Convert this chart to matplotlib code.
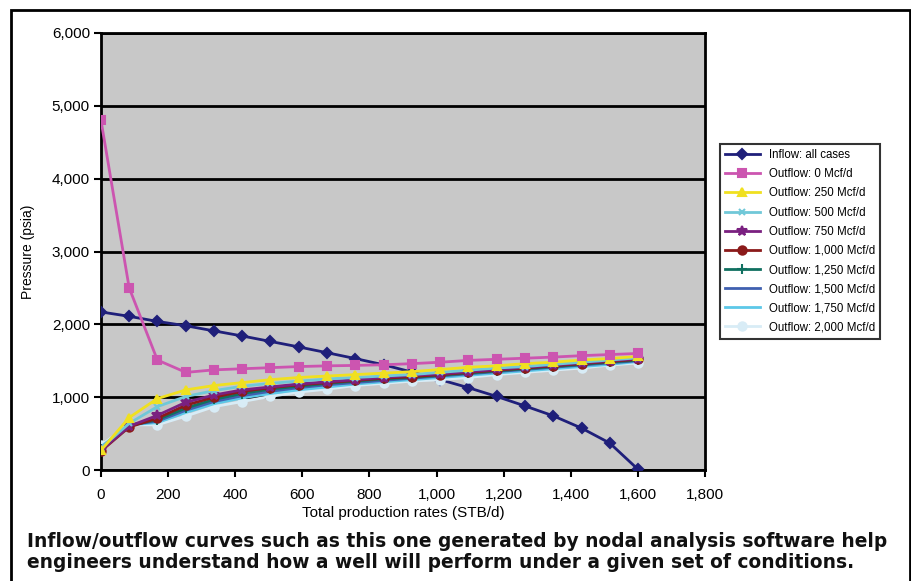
import matplotlib
matplotlib.use("Agg")
import matplotlib.pyplot as plt
from matplotlib.patches import Rectangle
from matplotlib.ticker import FuncFormatter

# Production rates (STB/d)
rates = [0, 84, 168, 253, 337, 421, 505, 589, 674, 758,
         842, 926, 1011, 1095, 1179, 1263, 1347, 1432, 1516, 1600]

inflow = [2170, 2110, 2040, 1980, 1910, 1840, 1765, 1690, 1610, 1530,
          1445, 1345, 1240, 1130, 1010, 880, 745, 575, 370, 10]

outflow_0 = [4800, 2500, 1510, 1340, 1375, 1390, 1405, 1420, 1430, 1436,
             1445, 1460, 1480, 1505, 1520, 1535, 1550, 1570, 1585, 1600]
outflow_250 = [270, 720, 980, 1100, 1160, 1200, 1240, 1270, 1290, 1310,
               1330, 1350, 1380, 1410, 1430, 1460, 1480, 1510, 1530, 1560]
outflow_500 = [300, 640, 870, 1010, 1090, 1150, 1190, 1220, 1250, 1270,
               1290, 1310, 1340, 1370, 1400, 1420, 1450, 1480, 1510, 1540]
outflow_750 = [270, 600, 750, 930, 1030, 1100, 1140, 1180, 1210, 1240,
               1270, 1300, 1320, 1350, 1380, 1410, 1440, 1470, 1500, 1530]
outflow_1000 = [260, 590, 710, 890, 1000, 1080, 1130, 1170, 1200, 1230,
                1260, 1280, 1310, 1340, 1370, 1400, 1430, 1460, 1490, 1520]
outflow_1250 = [290, 610, 690, 850, 970, 1050, 1110, 1150, 1190, 1220,
                1250, 1270, 1300, 1330, 1360, 1390, 1420, 1450, 1480, 1510]
outflow_1500 = [300, 620, 670, 820, 940, 1020, 1080, 1130, 1170, 1200,
                1230, 1260, 1290, 1320, 1350, 1380, 1410, 1440, 1470, 1500]
outflow_1750 = [320, 620, 650, 790, 910, 990, 1050, 1100, 1140, 1180,
                1210, 1240, 1270, 1300, 1330, 1360, 1390, 1420, 1450, 1490]
outflow_2000 = [340, 620, 620, 740, 870, 940, 1010, 1070, 1110, 1160,
                1190, 1220, 1240, 1270, 1310, 1340, 1370, 1400, 1440, 1470]

labels = ['Inflow: all cases', 'Outflow: 0 Mcf/d', 'Outflow: 250 Mcf/d',
          'Outflow: 500 Mcf/d', 'Outflow: 750 Mcf/d', 'Outflow: 1,000 Mcf/d',
          'Outflow: 1,250 Mcf/d', 'Outflow: 1,500 Mcf/d', 'Outflow: 1,750 Mcf/d',
          'Outflow: 2,000 Mcf/d']

plt.rcParams['font.family'] = ['Liberation Sans', 'DejaVu Sans']

fig = plt.figure(figsize=(9.12, 5.81), dpi=100)
ax = fig.add_axes([101 / 912, 1 - 470 / 581, 604 / 912, 437 / 581])
ax.set_facecolor('#c8c8c8')

# (values, colour, marker, size, legend position)
series = [
    (outflow_2000, '#d8ecf6', 'o', 6, 9),
    (outflow_1750, '#5cc8e8', None, 0, 8),
    (outflow_1500, '#4060b0', None, 0, 7),
    (outflow_1250, '#107060', '+', 7, 6),
    (outflow_1000, '#8b1a1a', 'o', 6, 5),
    (outflow_750, '#7a2080', '*', 7, 4),
    (outflow_500, '#70c8d8', 'x', 5, 3),
    (outflow_250, '#f0e020', '^', 6, 2),
    (outflow_0, '#cc55b0', 's', 6, 1),
    (inflow, '#1f1f7a', 'D', 5, 0),
]
handles = {}
for z, (vals, col, mk, ms, pos) in enumerate(series):
    h, = ax.plot(rates, vals, color=col, lw=2, marker=mk, ms=ms,
                 markeredgecolor=col, markeredgewidth=1.5, zorder=3 + z * 0.1)
    handles[pos] = h
handles[0].set_zorder(2.9)

ax.set_xlim(0, 1800)
ax.set_ylim(0, 6000)
ax.set_xticks(range(0, 1801, 200))
ax.set_yticks(range(0, 6001, 1000))
fmt = FuncFormatter(lambda v, p: f'{int(v):,}')
ax.xaxis.set_major_formatter(fmt)
ax.yaxis.set_major_formatter(fmt)
ax.grid(axis='y', color='black', lw=2)
ax.set_axisbelow(True)
for s in ax.spines.values():
    s.set_linewidth(2)
ax.tick_params(axis='both', direction='out', width=1.5, length=5, labelsize=11)
ax.tick_params(axis='x', pad=8)
ax.tick_params(axis='y', pad=3)

ax.set_xlabel('Total production rates (STB/d)', fontsize=11, labelpad=3)
ax.set_ylabel('Pressure (psia)', fontsize=10, labelpad=12)

leg = fig.legend([handles[k] for k in range(10)], labels,
                 loc='upper left', bbox_to_anchor=(720 / 912, 1 - 144 / 581),
                 fontsize=8.3, frameon=True, fancybox=False, edgecolor='black',
                 handlelength=3, borderpad=0.45, labelspacing=0.62,
                 borderaxespad=0)
leg.get_frame().set_linewidth(1.5)

fig.add_artist(Rectangle((11 / 912, -0.02), 899 / 912, 1 - 10 / 581 + 0.02,
                         transform=fig.transFigure, fill=False, lw=2, edgecolor='black'))

fig.text(27 / 912, 1 - 552 / 581,
         'Inflow/outflow curves such as this one generated by nodal analysis software help\n'
         'engineers understand how a well will perform under a given set of conditions.',
         family=['DejaVu Sans'], fontweight='bold', fontsize=13.4, va='center', ha='left',
         linespacing=1.1, color='#111111')

fig.savefig('out.png', dpi=100)
